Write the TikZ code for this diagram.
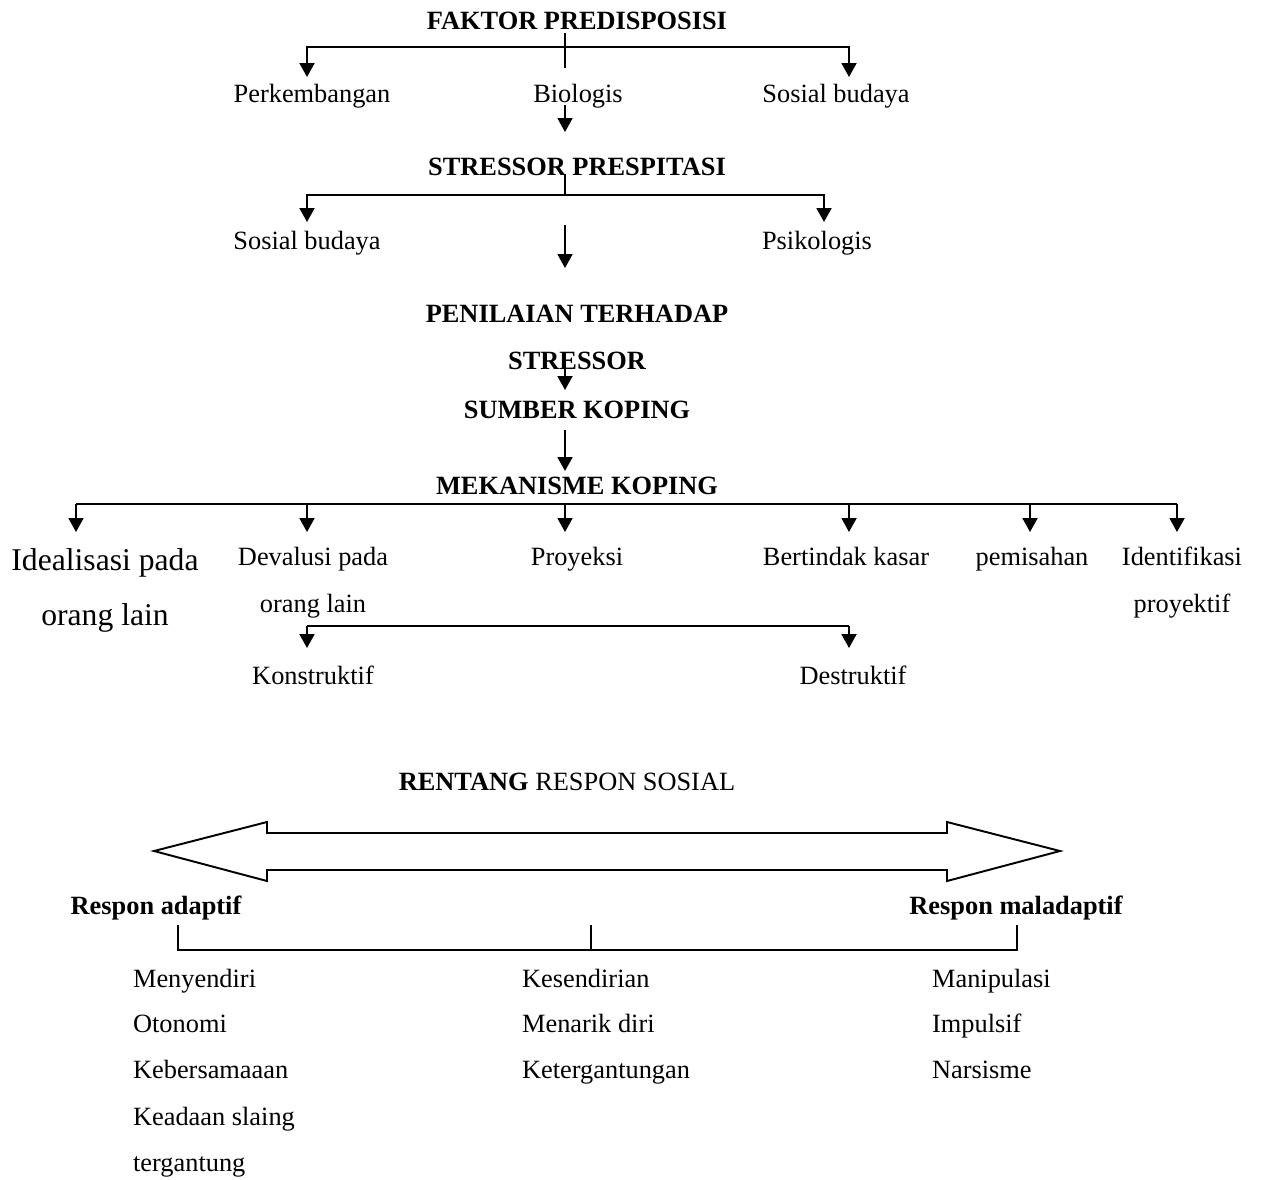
\documentclass[tikz,border=0pt]{standalone}
\usepackage{fontspec}
\setmainfont{Liberation Serif}
\usetikzlibrary{arrows.meta}
\tikzset{
  tx/.style={font=\fontsize{15}{18}\selectfont, inner sep=1pt, text height=10.5pt, text depth=3.5pt},
  hd/.style={font=\fontsize{15}{18}\selectfont\bfseries, inner sep=1pt, text height=10.5pt, text depth=3.5pt},
  big/.style={font=\fontsize{18}{22}\selectfont, inner sep=1pt, text height=12.5pt, text depth=4pt},
  arr/.style={-{Triangle[width=3mm,length=2.8mm]}, line width=1.1pt},
  ln/.style={line width=0.7pt}
}
\begin{document}
\begin{tikzpicture}
\useasboundingbox (0,0) rectangle (25.24,-23.58);
% faktor predisposisi
\node[hd] (faktor) at (11.54,-0.46) {FAKTOR PREDISPOSISI};
\node[tx] (perk) at (6.24,-1.92) {Perkembangan};
\node[tx] (bio) at (11.56,-1.92) {Biologis};
\node[tx] (sosA) at (16.72,-1.92) {Sosial budaya};
\coordinate (f0) at (11.30,-0.66);
\coordinate (f1) at (11.30,-0.94);
\coordinate (f2) at (11.30,-1.36);
\coordinate (fa) at (6.14,-1.54);
\coordinate (fb) at (16.98,-1.54);
\draw[ln] (f0) -- (f2);
\draw[arr] (f1) -| (fa);
\draw[arr] (f1) -| (fb);
\coordinate (b0) at (11.30,-2.10);
\coordinate (b1) at (11.30,-2.64);
\draw[arr] (b0) -- (b1);
% stressor prespitasi
\node[hd] (prespitasi) at (11.54,-3.38) {STRESSOR PRESPITASI};
\node[tx] (sosB) at (6.14,-4.86) {Sosial budaya};
\node[tx] (psi) at (16.34,-4.86) {Psikologis};
\coordinate (s0) at (11.30,-3.48);
\coordinate (s1) at (11.30,-3.90);
\coordinate (sa) at (6.14,-4.44);
\coordinate (sb) at (16.48,-4.44);
\draw[ln] (s0) -- (s1);
\draw[arr] (s1) -| (sa);
\draw[arr] (s1) -| (sb);
\coordinate (c0) at (11.30,-4.50);
\coordinate (c1) at (11.30,-5.36);
\draw[arr] (c0) -- (c1);
% penilaian, sumber, mekanisme
\node[hd] (penilaian) at (11.54,-6.32) {PENILAIAN TERHADAP};
\node[hd] (stressor) at (11.54,-7.26) {STRESSOR};
\node[hd] (sumber) at (11.54,-8.24) {SUMBER KOPING};
\node[hd] (mekanisme) at (11.54,-9.76) {MEKANISME KOPING};
\coordinate (p0) at (11.30,-7.32);
\coordinate (p1) at (11.30,-7.80);
\draw[arr] (p0) -- (p1);
\coordinate (k0) at (11.30,-8.60);
\coordinate (k1) at (11.30,-9.42);
\draw[arr] (k0) -- (k1);
\coordinate (m0) at (1.52,-10.08);
\coordinate (m1) at (23.54,-10.08);
\draw[line width=1.1pt] (m0) -- (m1);
\foreach \x/\n in {1.52/1, 6.14/2, 11.30/3, 16.98/4, 20.60/5, 23.54/6} {
  \coordinate (mt\n) at (\x,-10.08);
  \coordinate (mb\n) at (\x,-10.64);
  \draw[arr] (mt\n) -- (mb\n);
}
\node[big] (ideal) at (2.10,-11.26) {Idealisasi pada};
\node[big] (idealB) at (2.10,-12.36) {orang lain};
\node[tx] (deval) at (6.26,-11.18) {Devalusi pada};
\node[tx] (devalB) at (6.26,-12.12) {orang lain};
\node[tx] (proyeksi) at (11.54,-11.18) {Proyeksi};
\node[tx] (kasar) at (16.92,-11.18) {Bertindak kasar};
\node[tx] (pemisahan) at (20.64,-11.18) {pemisahan};
\node[tx] (ident) at (23.64,-11.18) {Identifikasi};
\node[tx] (identB) at (23.64,-12.12) {proyektif};
% konstruktif / destruktif
\coordinate (d0) at (6.14,-12.52);
\coordinate (d1) at (16.98,-12.52);
\coordinate (d2) at (6.14,-12.96);
\coordinate (d3) at (16.98,-12.96);
\draw[line width=1.1pt] (d0) -- (d1);
\draw[arr] (d0) -- (d2);
\draw[arr] (d1) -- (d3);
\node[tx] (konstruktif) at (6.26,-13.56) {Konstruktif};
\node[tx] (destruktif) at (17.06,-13.56) {Destruktif};
% rentang respon sosial
\node[tx] (rentang) at (11.34,-15.68) {\textbf{RENTANG} RESPON SOSIAL};
\draw[line width=1.1pt] (3.08,-17.02) -- (5.34,-16.44) -- (5.34,-16.66) -- (18.94,-16.66)
  -- (18.94,-16.44) -- (21.20,-17.02) -- (18.94,-17.62) -- (18.94,-17.40)
  -- (5.34,-17.40) -- (5.34,-17.62) -- cycle;
\node[hd] (adaptif) at (3.12,-18.16) {Respon adaptif};
\node[hd] (maladaptif) at (20.32,-18.16) {Respon maladaptif};
\coordinate (r1) at (3.56,-18.50);
\coordinate (r2) at (11.82,-18.50);
\coordinate (r3) at (20.34,-18.50);
\coordinate (q1) at (3.56,-19.00);
\coordinate (q2) at (11.82,-19.00);
\coordinate (q3) at (20.34,-19.00);
\draw[ln] (r1) -- (q1) -- (q3) -- (r3);
\draw[ln] (r2) -- (q2);
% respon lists
\node[tx, anchor=west] (a1) at (2.62,-19.62) {Menyendiri};
\node[tx, anchor=west] (a2) at (2.62,-20.52) {Otonomi};
\node[tx, anchor=west] (a3) at (2.62,-21.44) {Kebersamaaan};
\node[tx, anchor=west] (a4) at (2.62,-22.38) {Keadaan slaing};
\node[tx, anchor=west] (a5) at (2.62,-23.30) {tergantung};
\node[tx, anchor=west] (b1) at (10.40,-19.62) {Kesendirian};
\node[tx, anchor=west] (b2) at (10.40,-20.52) {Menarik diri};
\node[tx, anchor=west] (b3) at (10.40,-21.44) {Ketergantungan};
\node[tx, anchor=west] (c1) at (18.60,-19.62) {Manipulasi};
\node[tx, anchor=west] (c2) at (18.60,-20.52) {Impulsif};
\node[tx, anchor=west] (c3) at (18.60,-21.44) {Narsisme};
\end{tikzpicture}
\end{document}
